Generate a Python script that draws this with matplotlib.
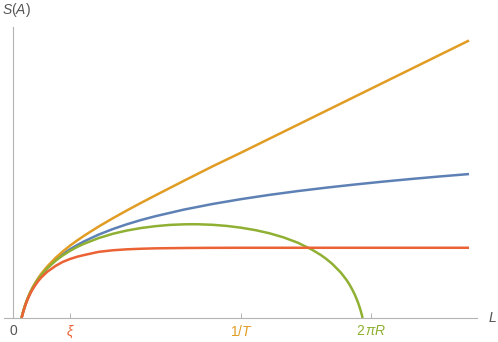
import numpy as np
import matplotlib
matplotlib.use("Agg")
import matplotlib.pyplot as plt

plt.rcParams['font.family'] = ['Liberation Sans', 'DejaVu Sans']
plt.rcParams['mathtext.fontset'] = 'custom'
plt.rcParams['mathtext.rm'] = 'Liberation Sans'
plt.rcParams['mathtext.it'] = 'Liberation Sans:italic'

# L values (units: xi = 1, 1/T = 4, R = 1)
L = [0.15, 0.16, 0.17, 0.18, 0.2, 0.22, 0.25, 0.27, 0.3, 0.33, 0.35, 0.4, 0.45,
     0.5, 0.6, 0.75, 0.875, 1.0, 1.125, 1.25, 1.5, 1.75, 2.0, 2.25, 2.5, 3.0,
     3.5, 4.0, 4.5, 5.0, 5.5, 6.0, 6.5, 7.0, 7.5, 8.0]

# zero temperature, infinite line (blue)
s_line = [0.0, 0.041, 0.080, 0.116, 0.183, 0.243, 0.324, 0.373, 0.440, 0.501,
          0.538, 0.623, 0.698, 0.765, 0.880, 1.022, 1.120, 1.205, 1.279, 1.346,
          1.462, 1.560, 1.645, 1.720, 1.786, 1.902, 2.000, 2.085, 2.160, 2.227,
          2.287, 2.342, 2.393, 2.440, 2.484, 2.525]

# finite temperature (orange)
s_thermal = [0.0, 0.041, 0.080, 0.118, 0.185, 0.246, 0.328, 0.378, 0.446, 0.508,
             0.547, 0.633, 0.711, 0.781, 0.903, 1.058, 1.169, 1.269, 1.360, 1.445,
             1.603, 1.749, 1.888, 2.022, 2.152, 2.408, 2.660, 2.900, 3.146, 3.392,
             3.638, 3.884, 4.130, 4.376, 4.622, 4.868]

# massive / correlation length xi (red)
s_massive = [0.0, 0.036, 0.073, 0.109, 0.175, 0.233, 0.311, 0.358, 0.421, 0.479,
             0.512, 0.590, 0.657, 0.715, 0.810, 0.916, 0.985, 1.035, 1.075, 1.105,
             1.160, 1.188, 1.205, 1.215, 1.222, 1.228, 1.231, 1.232, 1.232, 1.232,
             1.232, 1.232, 1.232, 1.232, 1.232, 1.232]

# circle of radius R (green)
L_circle = [0.15, 0.16, 0.17, 0.18, 0.2, 0.22, 0.25, 0.27, 0.3, 0.33, 0.35, 0.4,
            0.45, 0.5, 0.6, 0.75, 0.875, 1.0, 1.125, 1.25, 1.5, 1.75, 2.0, 2.25,
            2.5, 2.75, 3.0, 3.14, 3.25, 3.5, 3.75, 4.0, 4.25, 4.5, 4.75, 5.0, 5.25,
            5.4, 5.5, 5.6, 5.75, 5.85, 5.9, 5.95, 6.0, 6.05, 6.08, 6.1, 6.12, 6.133]
s_circle = [0.0, 0.041, 0.079, 0.115, 0.182, 0.241, 0.322, 0.371, 0.438, 0.498,
            0.535, 0.619, 0.693, 0.758, 0.870, 1.007, 1.099, 1.178, 1.246, 1.304,
            1.401, 1.477, 1.535, 1.579, 1.611, 1.633, 1.643, 1.645, 1.644, 1.635,
            1.615, 1.584, 1.542, 1.486, 1.413, 1.319, 1.196, 1.105, 1.033, 0.950,
            0.798, 0.669, 0.592, 0.503, 0.401, 0.279, 0.191, 0.126, 0.053, 0.0]

tick_pos = [0, 1.0, 4.0, 6.2832]
tick_lab = ['0', r'$\xi$', r'$1/T$', r'$2\,\pi R$']
tick_col = ['#555555', '#EB6235', '#E19C24', '#8FB032']

fig = plt.figure(figsize=(4.98, 3.42), dpi=100)
ax = fig.add_axes([4/498, 24/342, 473/498, 291.3/342])

lw = 1.8
ax.plot(L, s_line, color='#5E81B5', lw=lw, solid_capstyle='butt')
ax.plot(L, s_thermal, color='#E19C24', lw=lw, solid_capstyle='butt')
ax.plot(L_circle, s_circle, color='#8FB032', lw=lw, solid_capstyle='butt')
ax.plot(L, s_massive, color='#EB6235', lw=lw, solid_capstyle='butt')

ax.set_xlim(-0.158, 8.14)
ax.set_ylim(0, 5.11)

for s in ['top', 'right']:
    ax.spines[s].set_visible(False)
ax.spines['left'].set_position(('data', 0))
ax.spines['bottom'].set_position(('data', 0))
for s in ['left', 'bottom']:
    ax.spines[s].set_color('#b3b3b3')
    ax.spines[s].set_linewidth(0.8)

ax.set_yticks([])
ax.set_xticks(tick_pos)
ax.set_xticklabels(tick_lab, fontsize=10)
ax.tick_params(axis='x', direction='in', length=3.5, width=0.7, color='#b3b3b3', pad=4)
for lab, c in zip(ax.get_xticklabels(), tick_col):
    lab.set_color(c)
ax.get_xticklines()[0].set_visible(False)

fig.text(2/498, 1 - 10/342, r'$S(A)$', fontsize=10, color='#555555', va='center', ha='left')
fig.text(488/498, 1 - 318/342, r'$L$', fontsize=10, color='#555555', va='center', ha='left')

fig.savefig('out.png', dpi=100)
